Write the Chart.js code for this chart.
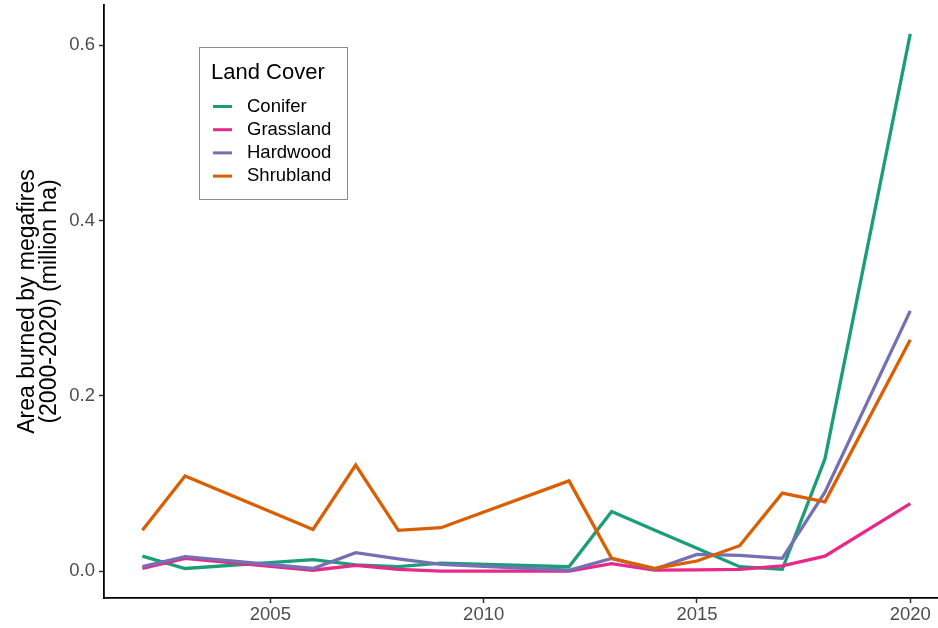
<!DOCTYPE html>
<html>
<head>
<meta charset="utf-8">
<script src="https://cdn.jsdelivr.net/npm/chart.js@4.4.1/dist/chart.umd.min.js"></script>
<style>
  html, body { margin: 0; padding: 0; background: #fff; }
  #wrap { width: 938px; height: 628px; position: relative; }
</style>
</head>
<body>
<div id="wrap"><canvas id="chart"></canvas></div>
<script>
const years = [2002, 2003, 2006, 2007, 2008, 2009, 2012, 2013, 2014, 2015, 2016, 2017, 2018, 2020]

const conifer = [0.017, 0.003, 0.013, 0.007, 0.005, 0.009, 0.005, 0.068, 0.047, 0.026, 0.005, 0.002, 0.128, 0.613]
const grassland = [0.003, 0.0145, 0.001, 0.0065, 0.002, 0.0, 0.0, 0.0085, 0.001, 0.0015, 0.002, 0.006, 0.017, 0.077]
const hardwood = [0.005, 0.0165, 0.003, 0.021, 0.014, 0.0076, 0.001, 0.0145, 0.002, 0.019, 0.018, 0.0145, 0.09, 0.297]
const shrubland = [0.0465, 0.1085, 0.0475, 0.121, 0.0465, 0.0495, 0.103, 0.0145, 0.003, 0.0115, 0.029, 0.089, 0.079, 0.264]

const coverNames = ['Conifer', 'Grassland', 'Hardwood', 'Shrubland']
const coverColors = ['#1B9E77', '#E7298A', '#7570B3', '#D95F02']

const xTicks = [2005, 2010, 2015, 2020]
const yTicks = [0, 0.2, 0.4, 0.6]

const FONT = "'Liberation Sans', Arial, Helvetica, sans-serif"

const toPoints = values => years.map((year, i) => ({ x: year, y: values[i] }))

const makeDataset = (name, values, i) => ({
  label: name,
  data: toPoints(values),
  borderColor: coverColors[i],
  backgroundColor: coverColors[i],
  borderWidth: 3.3,
  pointRadius: 0,
  tension: 0,
  fill: false,
  // later series sit on top, like ggplot
  order: coverNames.length - i
})

// boxed legend inside the panel
const landCoverLegend = {
  id: 'landCoverLegend',
  afterDraw: chart => {
    const ctx = chart.ctx
    const box = { x: 199.5, y: 47.5, w: 148, h: 152 }
    ctx.save()
    ctx.strokeStyle = '#8a8a8a'
    ctx.lineWidth = 1
    ctx.fillStyle = '#fff'
    ctx.fillRect(box.x, box.y, box.w, box.h)
    ctx.strokeRect(box.x, box.y, box.w, box.h)

    ctx.fillStyle = '#000'
    ctx.textBaseline = 'middle'
    ctx.textAlign = 'left'
    ctx.font = `22px ${FONT}`
    ctx.fillText('Land Cover', 211, 73)

    ctx.font = `18.5px ${FONT}`
    chart.data.datasets.forEach((ds, i) => {
      const y = 106.5 + i * 23.2
      ctx.strokeStyle = ds.borderColor
      ctx.lineWidth = 3
      ctx.beginPath()
      ctx.moveTo(213, y)
      ctx.lineTo(232, y)
      ctx.stroke()
      ctx.fillStyle = '#000'
      ctx.fillText(ds.label, 247, y)
    })
    ctx.restore()
  }
}

const axisTicks = (values, fmt, pad) => ({
  afterBuildTicks: scale => { scale.ticks = values.map(value => ({ value })) },
  ticks: {
    callback: fmt,
    color: '#4D4D4D',
    font: { family: FONT, size: 18.5 },
    autoSkip: false,
    maxRotation: 0,
    padding: pad
  },
  grid: {
    display: true,
    drawOnChartArea: false,
    drawTicks: true,
    tickLength: 5,
    tickWidth: 1.5,
    tickColor: '#333333'
  },
  border: { display: true, color: '#000', width: 1.8 }
})

new Chart(document.getElementById('chart'), {
  type: 'line',
  data: {
    datasets: [conifer, grassland, hardwood, shrubland].map((values, i) => makeDataset(coverNames[i], values, i))
  },
  options: {
    responsive: true,
    maintainAspectRatio: false,
    devicePixelRatio: 1,
    animation: false,
    layout: { padding: { top: 5, right: 0, bottom: 0, left: 0 } },
    plugins: {
      legend: { display: false },
      tooltip: { enabled: false }
    },
    scales: {
      x: {
        type: 'linear',
        min: 2001.1,
        max: 2020.65,
        ...axisTicks(xTicks, v => String(v), 1),
        afterFit: scale => {
          scale.height = 30
          scale.paddingLeft = 0
          scale.paddingRight = 0
        }
      },
      y: {
        type: 'linear',
        min: -0.0307,
        max: 0.646,
        ...axisTicks(yTicks, v => v.toFixed(1), 4),
        afterFit: scale => {
          scale.width = 104
          scale.paddingTop = 0
          scale.paddingBottom = 0
        },
        title: {
          display: true,
          text: ['Area burned by megafires', '(2000-2020) (million ha)'],
          color: '#000',
          font: { family: FONT, size: 23, lineHeight: 0.95 },
          padding: { top: 17, bottom: 0 }
        }
      }
    }
  },
  plugins: [landCoverLegend]
})
</script>
</body>
</html>
